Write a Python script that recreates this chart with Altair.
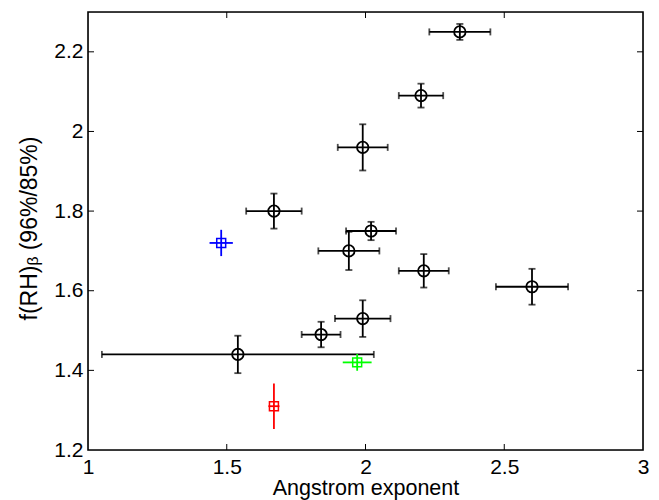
import altair as alt
import pandas as pd

# black points
black_x = [2.34, 2.20, 1.99, 2.02, 1.94, 2.21, 2.60, 1.67, 1.99, 1.84, 1.54]
black_y = [2.25, 2.09, 1.96, 1.75, 1.70, 1.65, 1.61, 1.80, 1.53, 1.49, 1.44]
black_xerr = [0.11, 0.08, 0.09, 0.09, 0.11, 0.09, 0.13, 0.10, 0.10, 0.07, 0.49]
black_yerr = [0.02, 0.03, 0.058, 0.023, 0.048, 0.042, 0.045, 0.044, 0.046, 0.032, 0.047]

# coloured squares
col_names = ["blue", "green", "red"]
col_x = [1.48, 1.97, 1.67]
col_y = [1.72, 1.42, 1.31]
col_xerr = [0.042, 0.052, 0.02]
col_yerr = [0.033, 0.021, 0.057]
col_colors = ["#0000ff", "#00ff00", "#ff0000"]

x_ticks = [1, 1.5, 2, 2.5, 3]
y_ticks = [1.2, 1.4, 1.6, 1.8, 2.0, 2.2]

W, H = 555, 438
FONT = "Liberation Sans"

bdf = pd.DataFrame({"x": black_x, "y": black_y, "xe": black_xerr, "ye": black_yerr})
bdf["xlo"] = bdf.x - bdf.xe
bdf["xhi"] = bdf.x + bdf.xe
bdf["ylo"] = bdf.y - bdf.ye
bdf["yhi"] = bdf.y + bdf.ye

cdf = pd.DataFrame({"name": col_names, "x": col_x, "y": col_y, "xe": col_xerr,
                    "ye": col_yerr, "c": col_colors})
cdf["xlo"] = cdf.x - cdf.xe
cdf["xhi"] = cdf.x + cdf.xe
cdf["ylo"] = cdf.y - cdf.ye
cdf["yhi"] = cdf.y + cdf.ye

xs = alt.Scale(domain=[1, 3], nice=False, zero=False)
ys = alt.Scale(domain=[1.2, 2.3], nice=False, zero=False)

xax = alt.Axis(values=x_ticks, ticks=False, tickSize=0, domain=False, grid=False,
               labelPadding=6, labelFontSize=21, labelFont=FONT, labelColor="black",
               labelFlush=False, format=".1~f",
               title="Angstrom exponent", titleFont=FONT,
               titleFontSize=21.5, titleFontWeight="normal", titleColor="black",
               titleY=44, titleBaseline="alphabetic")
yax = alt.Axis(values=y_ticks, ticks=False, tickSize=0, domain=False, grid=False,
               labelPadding=5, labelFontSize=21, labelFont=FONT, labelColor="black",
               labelFlush=False, format=".1~f",
               title="f(RH)ᵦ (96%/85%)", titleFont=FONT, titleFontSize=23,
               titleFontWeight="normal", titleColor="black", titleAngle=-90,
               titleX=-52, titleY=H / 2 - 3, titleAlign="center",
               titleBaseline="alphabetic")

base_b = alt.Chart(bdf)
base_c = alt.Chart(cdf)
SW = 1.8

# axes carrier (invisible)
axes = base_b.mark_point(opacity=0).encode(
    x=alt.X("x:Q", scale=xs, axis=xax),
    y=alt.Y("y:Q", scale=ys, axis=yax),
)

hbar = base_b.mark_rule(color="black", strokeWidth=SW).encode(
    x="xlo:Q", x2="xhi:Q", y="y:Q")
vbar = base_b.mark_rule(color="black", strokeWidth=SW).encode(
    y="ylo:Q", y2="yhi:Q", x="x:Q")
cap_l = base_b.mark_tick(color="black", orient="vertical", size=7, thickness=SW).encode(
    x="xlo:Q", y="y:Q")
cap_r = base_b.mark_tick(color="black", orient="vertical", size=7, thickness=SW).encode(
    x="xhi:Q", y="y:Q")
cap_b = base_b.mark_tick(color="black", orient="horizontal", size=7, thickness=SW).encode(
    x="x:Q", y="ylo:Q")
cap_t = base_b.mark_tick(color="black", orient="horizontal", size=7, thickness=SW).encode(
    x="x:Q", y="yhi:Q")
circ = base_b.mark_point(shape="circle", filled=False, color="black", size=130,
                         strokeWidth=SW, opacity=1).encode(x="x:Q", y="y:Q")

cscale = alt.Scale(domain=col_colors, range=col_colors)
chbar = base_c.mark_rule(strokeWidth=SW).encode(
    x="xlo:Q", x2="xhi:Q", y="y:Q", color=alt.Color("c:N", scale=cscale, legend=None))
cvbar = base_c.mark_rule(strokeWidth=SW).encode(
    y="ylo:Q", y2="yhi:Q", x="x:Q", color=alt.Color("c:N", scale=cscale, legend=None))
csq = base_c.mark_point(shape="square", filled=False, size=80, strokeWidth=1.5,
                        opacity=1).encode(
    x="x:Q", y="y:Q", color=alt.Color("c:N", scale=cscale, legend=None))

# frame
frame = alt.Chart(pd.DataFrame({"k": [0]})).mark_rect(
    fill=None, fillOpacity=0, stroke="black", strokeWidth=1.6).encode(
    x=alt.value(0), x2=alt.value(W), y=alt.value(0), y2=alt.value(H))

# inward ticks
xt_df = pd.DataFrame({"t": x_ticks[1:-1]})
yt_df = pd.DataFrame({"t": y_ticks[1:]})
TL = 6
xt_bot = alt.Chart(xt_df).mark_rule(color="black", strokeWidth=1).encode(
    x="t:Q", y=alt.value(H), y2=alt.value(H - TL))
xt_top = alt.Chart(xt_df).mark_rule(color="black", strokeWidth=1).encode(
    x="t:Q", y=alt.value(0), y2=alt.value(TL))
yt_l = alt.Chart(yt_df).mark_rule(color="black", strokeWidth=1).encode(
    y="t:Q", x=alt.value(0), x2=alt.value(TL))
yt_r = alt.Chart(yt_df).mark_rule(color="black", strokeWidth=1).encode(
    y="t:Q", x=alt.value(W), x2=alt.value(W - TL))

chart = alt.layer(axes, frame, xt_bot, xt_top, yt_l, yt_r, hbar, vbar, cap_l, cap_r,
                  cap_b, cap_t, circ, chbar, cvbar, csq).properties(
    width=W, height=H,
    autosize=alt.AutoSizeParams(type="none"),
    padding={"left": 80, "top": 4, "right": 8, "bottom": 50},
).configure_view(stroke=None).configure(background="white")

chart.save("out.html", embed_options={"renderer": "svg", "actions": False})
